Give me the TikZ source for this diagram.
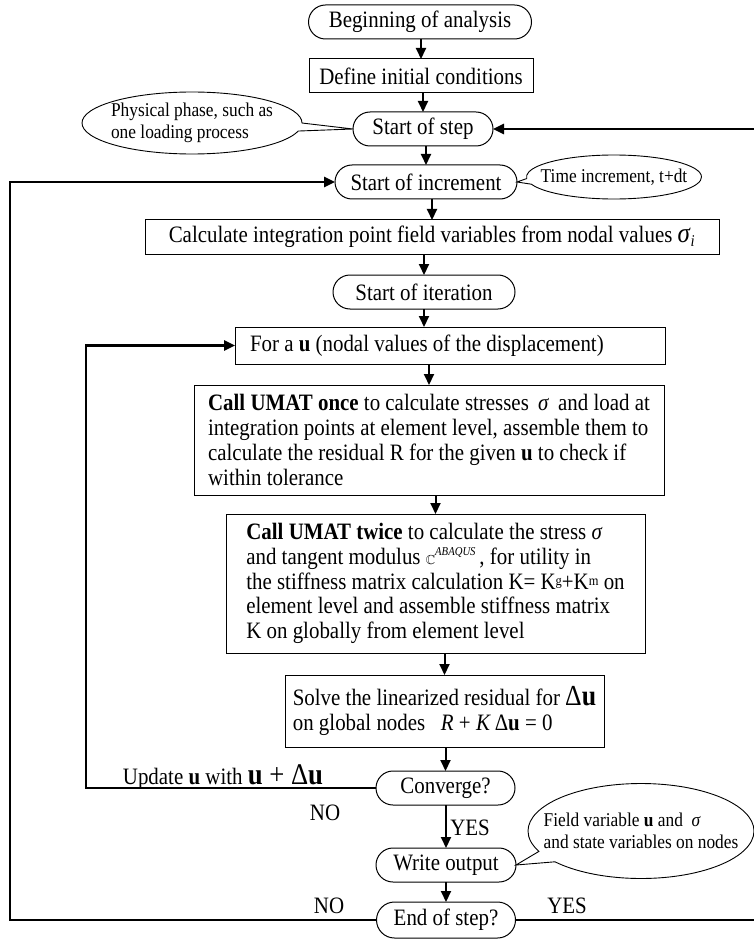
\documentclass[tikz,border=0pt]{standalone}
\usepackage{fontspec}
\setmainfont{Liberation Serif}[FakeStretch=0.89]
\usepackage{amssymb}
\usetikzlibrary{arrows.meta,positioning,shapes.misc,shapes.callouts}
\tikzset{
	frame/.style={
		rectangle, draw, line width=1pt, outer sep=0pt,
		inner xsep=6pt, inner ysep=3pt,
		minimum height=34pt,
	},
	term/.style={
		rounded rectangle, draw, line width=1pt, outer sep=0pt,
		inner xsep=6pt, inner ysep=3pt,
		minimum height=34pt,
	},
	bubble/.style={
		ellipse callout, draw, line width=0.9pt,
		font=\fontsize{19.5pt}{22pt}\selectfont,
		align=left, inner xsep=-30pt, inner ysep=0pt,
	},
	line/.style={
		draw, line width=2pt, -{Triangle[length=11pt,width=10pt]},
	},
	back/.style={
		line, line width=2.5pt,
	}
}
\newcommand{\smallsup}[1]{\raisebox{4pt}{\fontsize{14pt}{14pt}\selectfont #1}}

\begin{document}
\begin{tikzpicture}[x=1pt, y=-1pt, font=\fontsize{23.5pt}{24.7pt}\selectfont]
		\useasboundingbox (0,0) rectangle (753,941);
		
		\node [term, minimum width=235pt] (begin) at (420,22) {Beginning of analysis};
		\node [frame, minimum width=224pt, below=20pt of begin, xshift=1pt] (define) {Define initial conditions};
		\node [term, minimum width=152pt, below=19pt of define, xshift=2pt] (step) {Start of step};
		\node [term, minimum width=194pt, below=19pt of step, xshift=3pt] (incr) {Start of increment};
		\node [frame, minimum width=574pt, below=21pt of incr, xshift=6pt] (calc) {Calculate integration point field variables from nodal values {\fontsize{28pt}{28pt}\selectfont\textit{σ}}\textsubscript{\textit{i}}};
		\node [term, minimum width=194pt, below=21pt of calc, xshift=-8pt] (iter) {Start of iteration};
		\node [frame, text width=400pt, inner xsep=15pt, align=flush left, minimum height=37pt, below=18pt of iter, xshift=26pt] (foru) {For a \textbf{u} (nodal values of the displacement)};
		\node [frame, align=left, minimum width=470pt, minimum height=110pt, below=21pt of foru, xshift=-21pt] (once) {\textbf{Call UMAT once} to calculate stresses \,\textit{σ}\, and load at\\integration points at element level, assemble them to\\calculate the residual R for the given \textbf{u} to check if\\within tolerance};
		\node [frame, align=left, minimum width=419pt, minimum height=139pt, below=19pt of once, xshift=6.5pt] (twice) {\textbf{Call UMAT twice} to calculate the stress \textit{σ}\\and tangent modulus {\fontsize{13pt}{13pt}\selectfont$\mathbb{C}$}\raisebox{9pt}{\fontsize{12pt}{12pt}\selectfont\textit{ABAQUS}}\,, for utility in\\the stiffness matrix calculation K= K\smallsup{g}+K\smallsup{m} on\\element level and assemble stiffness matrix\\K on globally from element level};
		\node [frame, align=left, minimum width=319pt, minimum height=72pt, below=22pt of twice, xshift=9pt] (solve) {Solve the linearized residual for {\fontsize{29pt}{29pt}\selectfont Δ\textbf{u}}\\on global nodes \ \ \textit{R} + \textit{K}\,Δ\textbf{u} = 0};
		\node [term, minimum width=151pt, below=24pt of solve, xshift=1pt] (conv) {Converge?};
		\node [term, minimum width=152pt, below=43pt of conv, xshift=0.5pt] (write) {Write output};
		\node [term, minimum width=151pt, minimum height=36pt, below=20pt of write] (endstep) {End of step?};
		
		\node (update) at (223,777) {Update \textbf{u} with {\fontsize{30pt}{30pt}\selectfont\textbf{u} + Δ\textbf{u}}};
		\node (noconv) at (325,813) {NO};
		\node (yesconv) at (470,828) {YES};
		\node (noend) at (329,906) {NO};
		\node (yesend) at (567,906) {YES};
		
		\node [bubble, minimum width=220pt, minimum height=62pt, callout absolute pointer={(step.west)}] (phase) at (192,123) {Physical phase, such as\\one loading process};
		\node [bubble, minimum width=175pt, minimum height=44pt, callout absolute pointer={(incr.east)}] (tinc) at (614,177) {Time increment, t+dt};
		\node [bubble, minimum width=226pt, minimum height=95pt, callout absolute pointer={(write.east)}] (field) at (641,831) {Field variable \textbf{u} and \ \textit{σ}\\and state variables on nodes};
		
		\coordinate (farright) at (757,0);
		\coordinate (farleft) at (10,0);
		\coordinate (inner) at (86,0);
		
		\path [line] (define.north |- begin.south) -- (define.north);
		\path [line] (step.north |- define.south) -- (step.north);
		\path [line] (incr.north |- step.south) -- (incr.north);
		\path [line] (calc.north |- incr.south) -- (calc.north);
		\path [line] (iter.north |- calc.south) -- (iter.north);
		\path [line] (iter.south) -- (iter.south |- foru.north);
		\path [line] (once.north |- foru.south) -- (once.north);
		\path [line] (twice.north |- once.south) -- (twice.north);
		\path [line] (solve.north |- twice.south) -- (solve.north);
		\path [line] (conv.north |- solve.south) -- (conv.north);
		\path [line] (write.north |- conv.south) -- (write.north);
		\path [line] (endstep.north |- write.south) -- (endstep.north);
		
		\path [back] (conv.west) -- (conv.west -| inner) -- (foru.west -| inner) -- (foru.west);
		\path [back] (endstep.west) -- (endstep.west -| farleft) -- (incr.west -| farleft) -- (incr.west);
		\path [back] (endstep.east) -- (endstep.east -| farright) -- (step.east -| farright) -- (step.east);
\end{tikzpicture}
\end{document}
